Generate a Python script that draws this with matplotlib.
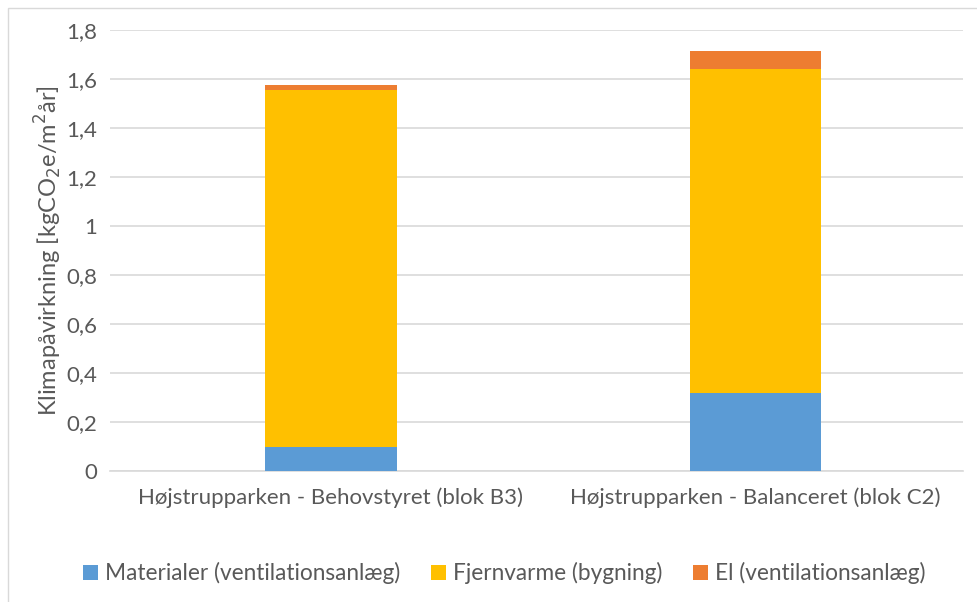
import matplotlib.pyplot as plt
import numpy as np
from matplotlib.patches import Rectangle

plt.rcParams['font.family'] = ['Lato', 'DejaVu Sans']

kategorier = ["Højstrupparken - Behovstyret (blok B3)", "Højstrupparken - Balanceret (blok C2)"]
serier = ["Materialer (ventilationsanlæg)", "Fjernvarme (bygning)", "El (ventilationsanlæg)"]
materialer = [0.10, 0.32]
fjernvarme = [1.455, 1.32]
el = [0.02, 0.075]
yticks = [0, 0.2, 0.4, 0.6, 0.8, 1.0, 1.2, 1.4, 1.6, 1.8]
ytick_labels = ["0", "0,2", "0,4", "0,6", "0,8", "1", "1,2", "1,4", "1,6", "1,8"]

farver = ["#5B9BD5", "#FFC000", "#ED7D31"]
tekst = "#595959"
gitter = "#D9D9D9"

fig = plt.figure(figsize=(9.78, 6.02), dpi=100)
ax = fig.add_axes([0.1125, 0.2176, 0.8725, 0.7324])

x = np.arange(len(kategorier))
bund = np.zeros(len(kategorier))
for navn, vaerdier, farve in zip(serier, [materialer, fjernvarme, el], farver):
    ax.bar(x, vaerdier, width=0.31, bottom=bund, color=farve, label=navn, zorder=3)
    bund += np.array(vaerdier)

ax.set_xlim(-0.52, 1.49)
ax.set_ylim(0, 1.8)
ax.set_yticks(yticks)
ax.set_yticklabels(ytick_labels)
ax.set_xticks(x)
ax.set_xticklabels(kategorier, fontsize=16)
ax.tick_params(axis='y', length=0, labelsize=16, colors=tekst, pad=9)
ax.tick_params(axis='x', length=0, colors=tekst, pad=12)
ax.grid(axis='y', color=gitter, linewidth=1.2, zorder=0)
for s in ['top', 'right', 'left']:
    ax.spines[s].set_visible(False)
ax.spines['bottom'].set_color(gitter)
ax.spines['bottom'].set_linewidth(1.2)

ax.set_ylabel("Klimapåvirkning [kgCO$_2$e/m$^2$år]", fontsize=17, color=tekst, labelpad=2)

ax.legend(loc='upper center', bbox_to_anchor=(0.462, -0.16), ncol=3, frameon=False,
          fontsize=16.3, labelcolor=tekst, handlelength=0.65, handleheight=0.65,
          handletextpad=0.3, columnspacing=1.37)

# tynd ramme om hele diagrammet
fig.patches.append(Rectangle((8 / 978, -0.01), 1.0, 1 - 8 / 602 + 0.01, transform=fig.transFigure,
                             fill=False, edgecolor="#D9D9D9", linewidth=1.0))

fig.savefig("out.png", dpi=100)
